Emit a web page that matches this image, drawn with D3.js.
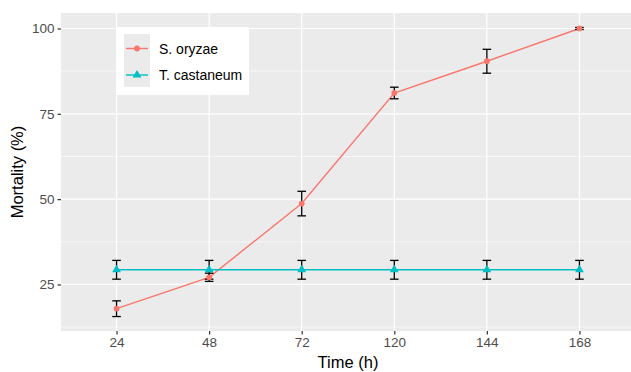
<!DOCTYPE html>
<html>
<head>
<meta charset="utf-8">
<script src="https://cdn.jsdelivr.net/npm/d3@7"></script>
<style>
  body { margin: 0; background: #fff; }
  text { font-family: "Liberation Sans", Arial, sans-serif; }
</style>
</head>
<body>
<div id="chart"></div>
<script>
// data
var times = ["24", "48", "72", "120", "144", "168"];
var oryzaeMean = [17.9, 27.1, 48.7, 81.1, 90.4, 100];
var oryzaeErr  = [2.3, 1.2, 3.6, 1.7, 3.5, 0.3];
var castaneumMean = [29.3, 29.3, 29.3, 29.3, 29.3, 29.3];
var castaneumErr  = [2.75, 2.75, 2.75, 2.75, 2.75, 2.75];
var seriesNames = ["S. oryzae", "T. castaneum"];
var seriesColors = ["#F8766D", "#00BFC4"];
var yTicks = [25, 50, 75, 100];
var yMinor = [12.5, 37.5, 62.5, 87.5];

var W = 631, H = 372;
var margin = {top: 13, right: -4, bottom: 41, left: 61};
var width = W - margin.left - margin.right,
    height = H - margin.top - margin.bottom;

var svg = d3.select("#chart").append("svg")
    .attr("width", W)
    .attr("height", H);

svg.append("defs").append("clipPath").attr("id", "clip")
  .append("rect").attr("width", W - margin.left).attr("height", height);

var g = svg.append("g")
    .attr("transform", "translate(" + margin.left + "," + margin.top + ")");

var series = [
  {name: seriesNames[0], color: seriesColors[0], mean: oryzaeMean, err: oryzaeErr, shape: d3.symbolCircle, size: 26},
  {name: seriesNames[1], color: seriesColors[1], mean: castaneumMean, err: castaneumErr, shape: d3.symbolTriangle, size: 34}
];

// ggplot style 5% expansion
var lo = d3.min(series, function(s) { return d3.min(s.mean, function(m, i) { return m - s.err[i]; }); });
var hi = d3.max(series, function(s) { return d3.max(s.mean, function(m, i) { return m + s.err[i]; }); });
var pad = (hi - lo) * 0.05;

var x = d3.scalePoint().domain(times).range([0, width]).padding(0.6);
var y = d3.scaleLinear().domain([lo - pad, hi + pad]).range([height, 0]);

var panel = g.append("g").attr("clip-path", "url(#clip)");
panel.append("rect")
    .attr("width", width).attr("height", height)
    .attr("fill", "#EBEBEB");

// grid
panel.selectAll(".minor").data(yMinor).enter().append("line")
    .attr("x1", 0).attr("x2", width)
    .attr("y1", function(d) { return y(d); }).attr("y2", function(d) { return y(d); })
    .attr("stroke", "#fff").attr("stroke-width", 0.6);
panel.selectAll(".major").data(yTicks).enter().append("line")
    .attr("x1", 0).attr("x2", width)
    .attr("y1", function(d) { return y(d); }).attr("y2", function(d) { return y(d); })
    .attr("stroke", "#fff").attr("stroke-width", 1.2);
panel.selectAll(".vmajor").data(times).enter().append("line")
    .attr("y1", 0).attr("y2", height)
    .attr("x1", function(d) { return x(d); }).attr("x2", function(d) { return x(d); })
    .attr("stroke", "#fff").attr("stroke-width", 1.2);

var line = d3.line()
    .x(function(d, i) { return x(times[i]); })
    .y(function(d) { return y(d); });

series.forEach(function(s) {
  panel.append("path")
      .datum(s.mean)
      .attr("d", line)
      .attr("fill", "none")
      .attr("stroke", s.color)
      .attr("stroke-width", 1.4);
});

// error bars
series.forEach(function(s) {
  var eb = panel.append("g");
  s.mean.forEach(function(m, i) {
    var cx = x(times[i]), y0 = y(m - s.err[i]), y1 = y(m + s.err[i]);
    eb.append("line").attr("x1", cx).attr("x2", cx).attr("y1", y0).attr("y2", y1)
      .attr("stroke", "#000").attr("stroke-width", 1.3);
    [y0, y1].forEach(function(yy) {
      eb.append("line").attr("x1", cx - 4.3).attr("x2", cx + 4.3).attr("y1", yy).attr("y2", yy)
        .attr("stroke", "#000").attr("stroke-width", 1.3);
    });
  });
});

// points
series.forEach(function(s) {
  panel.selectAll(null).data(s.mean).enter().append("path")
      .attr("d", d3.symbol().type(s.shape).size(s.size))
      .attr("transform", function(d, i) { return "translate(" + x(times[i]) + "," + y(d) + ")"; })
      .attr("fill", s.color);
});

// axes
var xAxis = g.append("g")
    .attr("transform", "translate(0," + height + ")")
    .call(d3.axisBottom(x).tickSize(3.5).tickPadding(3));
var yAxis = g.append("g")
    .call(d3.axisLeft(y).tickValues(yTicks).tickSize(3.5).tickPadding(3));
[xAxis, yAxis].forEach(function(a) {
  a.select(".domain").remove();
  a.selectAll(".tick line").attr("stroke", "#333").attr("stroke-width", 1.2);
  a.selectAll(".tick text").attr("fill", "#4D4D4D").style("font-size", "13.5px");
});

svg.append("text")
    .attr("x", margin.left + width / 2).attr("y", 368)
    .attr("text-anchor", "middle").style("font-size", "16.5px")
    .text("Time (h)");
svg.append("text")
    .attr("transform", "translate(23," + (margin.top + height / 2) + ") rotate(-90)")
    .attr("text-anchor", "middle").style("font-size", "16.5px")
    .text("Mortality (%)");

// legend
var leg = svg.append("g").attr("transform", "translate(116,27)");
leg.append("rect").attr("width", 133).attr("height", 68).attr("fill", "#fff");
leg.append("rect").attr("x", 8).attr("y", 7).attr("width", 26).attr("height", 53).attr("fill", "#EBEBEB");
series.forEach(function(s, i) {
  var cy = 21.5 + i * 26.5;
  leg.append("line").attr("x1", 10).attr("x2", 32).attr("y1", cy).attr("y2", cy)
    .attr("stroke", s.color).attr("stroke-width", 1.4);
  leg.append("path")
    .attr("d", d3.symbol().type(s.shape).size(s.size))
    .attr("transform", "translate(21," + cy + ")")
    .attr("fill", s.color);
  leg.append("text").attr("x", 43).attr("y", cy + 5)
    .style("font-size", "14px").attr("fill", "#000")
    .text(s.name);
});
</script>
</body>
</html>
